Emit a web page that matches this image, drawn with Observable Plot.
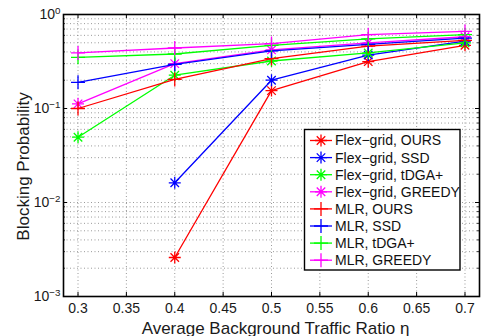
<!DOCTYPE html>
<html>
<head>
<meta charset="utf-8">
<script src="https://cdn.jsdelivr.net/npm/d3@7"></script>
<script src="https://cdn.jsdelivr.net/npm/@observablehq/plot@0.6"></script>
<style>
  html, body { margin: 0; padding: 0; background: white; }
  #chart { position: relative; width: 484px; height: 336px; }
</style>
</head>
<body>
<div id="chart"></div>
<script>
// ---------- data ----------
const xValues = [0.3, 0.4, 0.5, 0.6, 0.7];
const xTicks = [0.3, 0.35, 0.4, 0.45, 0.5, 0.55, 0.6, 0.65, 0.7];
const xTickLabels = ["0.3", "0.35", "0.4", "0.45", "0.5", "0.55", "0.6", "0.65", "0.7"];
const yTicks = [0.001, 0.01, 0.1, 1];
const yTickLabels = ["10^−3", "10^−2", "10^−1", "10^0"];

const seriesNames = [
  "Flex−grid, OURS", "Flex−grid, SSD", "Flex−grid, tDGA+", "Flex−grid, GREEDY",
  "MLR, OURS", "MLR, SSD", "MLR, tDGA+", "MLR, GREEDY"
];
const seriesColors = ["#ff0000", "#0000ff", "#00ff00", "#ff00ff", "#ff0000", "#0000ff", "#00ff00", "#ff00ff"];
const seriesMarkers = ["asterisk", "asterisk", "asterisk", "asterisk", "plus", "plus", "plus", "plus"];

const flexOurs   = [null,   0.0026, 0.155, 0.315, 0.47];
const flexSSD    = [null,   0.0162, 0.20,  0.37,  0.52];
const flexTDGA   = [0.0495, 0.226,  0.32,  0.39,  0.50];
const flexGreedy = [0.112,  0.30,   0.42,  0.50,  0.58];
const mlrOurs    = [0.10,   0.204,  0.34,  0.46,  0.53];
const mlrSSD     = [0.19,   0.295,  0.41,  0.48,  0.56];
const mlrTDGA    = [0.35,   0.38,   0.47,  0.55,  0.61];
const mlrGreedy  = [0.39,   0.44,   0.49,  0.61,  0.66];
const seriesValues = [flexOurs, flexSSD, flexTDGA, flexGreedy, mlrOurs, mlrSSD, mlrTDGA, mlrGreedy];

const xLabelOf = new Map(xTicks.map((t, i) => [t, xTickLabels[i]]));
const yLabelOf = new Map(yTicks.map((t, i) => [t, yTickLabels[i]]));

// ---------- symbols (MATLAB-like) ----------
const asterisk8 = {
  draw(ctx, size) {
    const r = Math.sqrt(size / Math.PI), d = r * Math.SQRT1_2;
    ctx.moveTo(-r, 0); ctx.lineTo(r, 0);
    ctx.moveTo(0, -r); ctx.lineTo(0, r);
    ctx.moveTo(-d, -d); ctx.lineTo(d, d);
    ctx.moveTo(-d, d); ctx.lineTo(d, -d);
  }
};
const plus4 = {
  draw(ctx, size) {
    const r = Math.sqrt(size / Math.PI);
    ctx.moveTo(-r, 0); ctx.lineTo(r, 0);
    ctx.moveTo(0, -r); ctx.lineTo(0, r);
  }
};
const symbolFor = {asterisk: asterisk8, plus: plus4};
const markerR = {asterisk: 6, plus: 7};

// minor log grid values
const yMinor = [];
for (const e of [-3, -2, -1]) for (let m = 1; m <= 9; m++) yMinor.push(m * Math.pow(10, e));
yMinor.push(1);

// ---------- dimensions ----------
const W = 484, H = 336;
const mL = 63, mR = 5, mT = 14, mB = 40;
const innerW = W - mL - mR, innerH = H - mT - mB;

// ---------- series marks ----------
const seriesMarks = [];
seriesNames.forEach((name, i) => {
  const rows = xValues.map((x, j) => ({x, y: seriesValues[i][j]})).filter(d => d.y != null);
  seriesMarks.push(Plot.line(rows, {x: "x", y: "y", stroke: seriesColors[i], strokeWidth: 1.3}));
  seriesMarks.push(Plot.dot(rows, {x: "x", y: "y", symbol: symbolFor[seriesMarkers[i]], r: markerR[seriesMarkers[i]], stroke: seriesColors[i], fill: "none", strokeWidth: 1.3}));
});

const gridStyle = {stroke: "#808080", strokeWidth: 0.8, strokeDasharray: "1,2.5"};

const chart = Plot.plot({
  width: W, height: H,
  marginLeft: mL, marginRight: mR, marginTop: mT, marginBottom: mB,
  style: {fontFamily: "'Liberation Sans', Arial, Helvetica, sans-serif", fontSize: "14px", background: "white", color: "#1a1a1a"},
  x: {domain: [0.285, 0.715]},
  y: {type: "log", domain: [0.001, 1]},
  marks: [
    Plot.ruleX(xTicks, gridStyle),
    Plot.ruleY(yMinor, gridStyle),
    ...seriesMarks,
    // inward ticks
    Plot.ruleX(xTicks, {stroke: "black", strokeWidth: 1, insetBottom: innerH - 4}),
    Plot.ruleX(xTicks, {stroke: "black", strokeWidth: 1, insetTop: innerH - 4}),
    Plot.ruleY(yTicks, {stroke: "black", strokeWidth: 1, insetRight: innerW - 4}),
    Plot.ruleY(yTicks, {stroke: "black", strokeWidth: 1, insetLeft: innerW - 4}),
    Plot.ruleY(yMinor, {stroke: "black", strokeWidth: 0.8, insetRight: innerW - 2}),
    Plot.ruleY(yMinor, {stroke: "black", strokeWidth: 0.8, insetLeft: innerW - 2}),
    Plot.frame({stroke: "black", strokeWidth: 1.6}),
    Plot.axisX({ticks: xTicks, tickSize: 0, tickPadding: 7, tickFormat: d => xLabelOf.get(d), fontSize: 14, label: null}),
    Plot.axisX({ticks: [], label: "Average Background Traffic Ratio η", labelAnchor: "center", labelArrow: "none", labelOffset: 37, fontSize: 17}),
    Plot.axisY({ticks: yTicks, tickSize: 0, tickPadding: 3, tickFormat: d => yLabelOf.get(d), fontSize: 14, label: null}),
    Plot.axisY({ticks: [], label: "Blocking Probability", labelAnchor: "center", labelArrow: "none", labelOffset: 47, fontSize: 17})
  ]
});

document.getElementById("chart").appendChild(chart);

// superscript exponents on y tick labels
d3.select(chart).selectAll('g[aria-label="y-axis tick label"] text').each(function () {
  const parts = this.textContent.split("^");
  if (parts.length < 2) return;
  const s = d3.select(this);
  s.text(parts[0]);
  s.append("tspan").attr("dy", "-0.55em").attr("font-size", "0.7em").text(parts[1]);
});
// nudge axis titles to where the reference places them (keep Plot's own transform)
function nudge(sel, dx, dy) {
  const g = d3.select(chart).select(sel);
  if (g.empty()) return;
  const t = g.attr("transform") || "";
  g.attr("transform", `translate(${dx},${dy}) ${t}`);
}
nudge('g[aria-label="y-axis label"]', 0, 11);
nudge('g[aria-label="x-axis label"]', 4, 0);

// legend (inside plot area, upper-right region)
const lg = d3.select(chart).append("g").attr("class", "legend").attr("text-anchor", "start");
const box = {x: 304.5, y: 129.5, w: 155.5, h: 140.5};
lg.append("rect").attr("x", box.x).attr("y", box.y).attr("width", box.w).attr("height", box.h)
  .attr("fill", "white").attr("stroke", "black").attr("stroke-width", 1.4);
const rowY0 = 140.5, rowStep = 17.1;
seriesNames.forEach((name, i) => {
  const y = rowY0 + i * rowStep;
  lg.append("line").attr("x1", 310).attr("x2", 332).attr("y1", y).attr("y2", y)
    .attr("stroke", seriesColors[i]).attr("stroke-width", 1.3);
  const r = markerR[seriesMarkers[i]];
  lg.append("path").attr("transform", `translate(321,${y})`)
    .attr("d", d3.symbol(symbolFor[seriesMarkers[i]], Math.PI * r * r)())
    .attr("fill", "none").attr("stroke", seriesColors[i]).attr("stroke-width", 1.3);
  lg.append("text").attr("x", 335).attr("y", y).attr("dy", "0.35em").attr("text-anchor", "start")
    .attr("font-size", 14).attr("fill", "#111").text(name);
});
</script>
</body>
</html>
